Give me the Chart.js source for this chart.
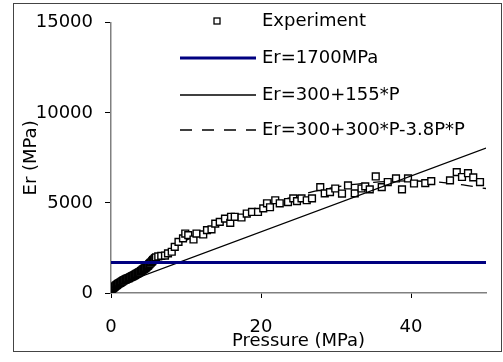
<!DOCTYPE html>
<html>
<head>
<meta charset="utf-8">
<script src="https://cdn.jsdelivr.net/npm/chart.js@4.4.1/dist/chart.umd.min.js"></script>
<style>
  html, body { margin: 0; padding: 0; background: #fff; }
  #wrap { width: 503px; height: 362px; }
</style>
</head>
<body>
<div id="wrap"><canvas id="chart" width="503" height="362"></canvas></div>
<script>
// experiment readings (pressure MPa, Er MPa)
const expP = [0.0,0.1,0.2,0.3,0.4,0.5,0.6,0.7,0.8,0.9,1.0,1.1,1.2,1.3,1.4,1.5,1.6,1.7,1.8,1.9,2.0,2.1,2.2,2.3,2.4,2.5,2.6,2.7,2.8,2.9,3.0,3.1,3.2,3.3,3.4,3.5,3.6,3.7,3.8,3.9,
  4.0,4.1,4.2,4.3,4.4,4.5,4.6,4.7,4.8,4.9,5.0,5.1,5.2,5.3,5.4,5.5,5.6,5.7,5.8,5.9,6.0,6.3,6.7,7.2,
  7.6,8.1,8.5,9.0,9.6,9.9,10.3,11.0,11.4,12.3,12.8,13.4,13.9,14.5,15.2,15.9,16.0,16.5,17.4,18.1,18.8,19.6,20.3,20.8,21.2,21.9,22.5,23.6,24.3,24.8,
  25.4,26.1,26.8,27.9,28.5,29.2,29.9,30.8,31.6,32.5,33.4,33.9,34.5,35.3,36.1,36.9,38.0,38.8,39.6,40.4,41.9,42.7,45.2,46.1,46.8,47.6,48.3,49.2];
const expE = [150,200,250,280,320,350,400,420,450,490,520,540,560,590,620,650,680,700,720,740,760,780,800,820,830,860,880,900,920,940,960,980,1010,1030,1060,1080,1100,1130,1160,1180,
  1210,1240,1280,1310,1340,1370,1400,1430,1470,1510,1550,1600,1640,1680,1720,1770,1820,1860,1900,1940,1980,2030,2060,2080,
  2200,2290,2560,2840,3030,3300,3210,2970,3300,3250,3490,3530,3850,3950,4130,3890,4230,4230,4190,4410,4500,4500,4700,4980,4760,5150,4980,5050,5250,5100,
  5250,5150,5250,5880,5530,5600,5800,5520,5970,5530,5800,5920,5750,6470,5880,6160,6360,5750,6360,6080,6100,6210,6250,6710,6440,6650,6420,6160];

const constP = [0, 50];
const constE = [1700, 1700];
const linP = [0, 50];
const linE = [300, 8050];
const quadP = [0, 5, 10, 15, 20, 25, 30, 35, 40, 45, 50];
const quadE = [300, 1705, 2920, 3945, 4780, 5425, 5880, 6145, 6220, 6105, 5800];

const xTicks = [0, 20, 40];
const yTicks = [0, 5000, 10000, 15000];
const legendLabels = ['Experiment', 'Er=1700MPa', 'Er=300+155*P', 'Er=300+300*P-3.8P*P'];

const FONT = "'DejaVu Sans', sans-serif";
const FS = 18;
const NAVY = '#000080';

function pts(xs, ys) { return xs.map((x, i) => ({ x: x, y: ys[i] })); }

// frame around the whole figure + legend inside the plot
const decor = {
  id: 'decor',
  afterDraw(chart) {
    const ctx = chart.ctx;
    ctx.save();
    ctx.strokeStyle = '#444';
    ctx.lineWidth = 1;
    ctx.strokeRect(13.5, 3.5, 488, 348);

    ctx.font = FS + 'px ' + FONT;
    ctx.textBaseline = 'middle';
    const tx = 262, x0 = 180, x1 = 256;
    const rows = [21, 58, 95, 130];
    // marker
    ctx.lineWidth = 1.3;
    ctx.strokeStyle = '#000';
    ctx.fillStyle = '#fff';
    ctx.fillRect(214, 18, 6, 6);
    ctx.strokeRect(214, 18, 6, 6);
    // lines
    ctx.beginPath(); ctx.strokeStyle = NAVY; ctx.lineWidth = 3;
    ctx.moveTo(x0, rows[1]); ctx.lineTo(x1, rows[1]); ctx.stroke();
    ctx.beginPath(); ctx.strokeStyle = '#000'; ctx.lineWidth = 1.3;
    ctx.moveTo(x0, rows[2]); ctx.lineTo(x1, rows[2]); ctx.stroke();
    ctx.beginPath(); ctx.setLineDash([12, 10]);
    ctx.moveTo(x0, rows[3]); ctx.lineTo(x1, rows[3]); ctx.stroke();
    ctx.setLineDash([]);
    ctx.fillStyle = '#000';
    legendLabels.forEach((t, i) => ctx.fillText(t, tx, rows[i]));
    ctx.restore();
  }
};

new Chart(document.getElementById('chart'), {
  type: 'scatter',
  data: {
    datasets: [
      {
        label: legendLabels[1],
        data: pts(constP, constE),
        showLine: true,
        borderColor: NAVY,
        borderWidth: 3,
        pointRadius: 0
      },
      {
        label: legendLabels[2],
        data: pts(linP, linE),
        showLine: true,
        borderColor: '#000',
        borderWidth: 1.3,
        pointRadius: 0
      },
      {
        label: legendLabels[0],
        data: pts(expP, expE),
        pointStyle: 'rect',
        pointRadius: 4.8,
        pointBorderWidth: 1.4,
        borderColor: '#000',
        backgroundColor: '#fff'
      },
      {
        label: legendLabels[3],
        data: pts(quadP, quadE),
        showLine: true,
        borderColor: '#000',
        borderWidth: 1.3,
        borderDash: [12, 10],
        cubicInterpolationMode: 'monotone',
        pointRadius: 0
      }
    ]
  },
  options: {
    responsive: false,
    animation: false,
    layout: { padding: { left: 0, top: 22, right: 17, bottom: 0 } },
    plugins: { legend: { display: false }, tooltip: { enabled: false } },
    scales: {
      x: {
        type: 'linear',
        min: 0,
        max: 50,
        afterFit(s) { s.height = 69; },
        afterBuildTicks(s) { s.ticks = xTicks.map(v => ({ value: v })); },
        grid: { display: true, drawOnChartArea: false, tickLength: 5, tickColor: '#000', tickWidth: 1 },
        border: { color: '#808080', width: 1.5 },
        ticks: { color: '#000', padding: 19, maxRotation: 0, font: { family: FONT, size: FS },
          callback: v => String(v) },
        title: { display: true, text: 'Pressure (MPa)', color: '#000', padding: { top: 0, bottom: 10 }, font: { family: FONT, size: FS } }
      },
      y: {
        type: 'linear',
        min: 0,
        max: 15000,
        afterFit(s) { s.width = 111; },
        afterBuildTicks(s) { s.ticks = yTicks.map(v => ({ value: v })); },
        grid: { display: true, drawOnChartArea: false, tickLength: 6, tickColor: '#000', tickWidth: 1 },
        border: { color: '#808080', width: 1.5 },
        ticks: { color: '#000', padding: 12, font: { family: FONT, size: FS },
          callback: v => String(v) },
        title: { display: true, text: 'Er (MPa)', color: '#000', padding: { top: 21, bottom: 0 }, font: { family: FONT, size: FS } }
      }
    }
  },
  plugins: [decor]
});
</script>
</body>
</html>
